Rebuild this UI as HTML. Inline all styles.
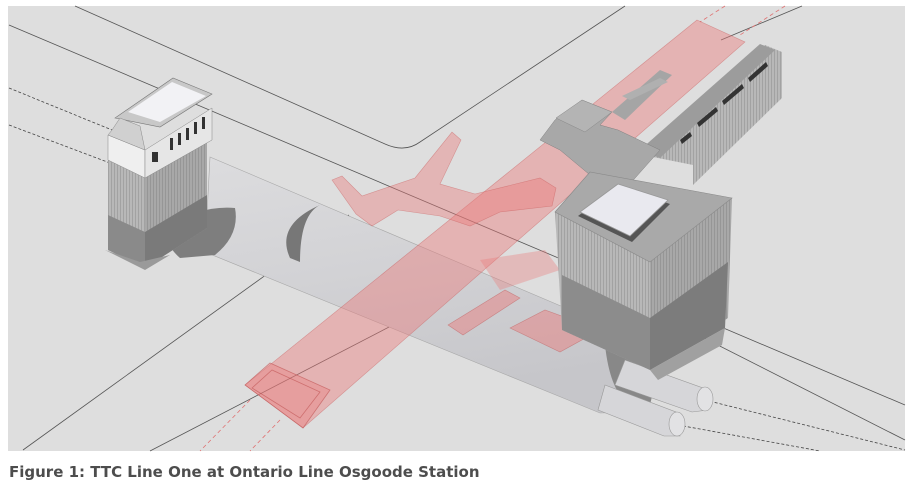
<!DOCTYPE html>
<html><head><meta charset="utf-8"><style>
html,body{margin:0;padding:0;background:#fff;width:911px;height:486px;overflow:hidden}
.cap{position:absolute;left:9px;top:463px;font:bold 15px "DejaVu Sans","Liberation Sans",sans-serif;color:#4d4d4d;white-space:nowrap}
svg{position:absolute;left:0;top:0}
</style></head><body>
<svg width="911" height="486" viewBox="0 0 911 486">
<defs>
<linearGradient id="tub" x1="0" y1="0" x2="0.3" y2="1"><stop offset="0" stop-color="#dcdcde"/><stop offset="0.5" stop-color="#d2d2d5"/><stop offset="1" stop-color="#c6c6ca"/></linearGradient>
<pattern id="str" width="3" height="10" patternUnits="userSpaceOnUse"><rect width="3" height="10" fill="#b8b8b8"/><rect width="1" height="10" fill="#a2a2a2"/></pattern>
<pattern id="str2" width="3" height="10" patternUnits="userSpaceOnUse"><rect width="3" height="10" fill="#a8a8a8"/><rect width="1" height="10" fill="#969696"/></pattern>
</defs>
<rect x="8" y="6" width="897" height="445" fill="#dedede"/>
<g stroke="#555" stroke-width="0.8" fill="none">
<path d="M75 6 L385 144 Q405 153 420 142 L625 6"/>
<path d="M9 25 L905 405"/>
<path d="M23 450 L349 215"/>
<path d="M150 451 L470 285"/>
<path d="M802 6 L721 40"/>
<path d="M560 265 L905 440"/>
</g>
<g stroke="#444" stroke-width="0.8" stroke-dasharray="3,2" fill="none">
<path d="M9 88 L112 130"/><path d="M9 125 L110 163"/>
<path d="M705 400 L905 450"/><path d="M678 425 L820 451"/>
</g>
<g stroke="#e07070" stroke-width="0.8" stroke-dasharray="4,3" fill="none">
<path d="M725 6 L700 22"/><path d="M785 6 L740 35"/>
<path d="M250 400 L200 451"/><path d="M280 420 L250 451"/>
</g>
<!-- tunnel -->
<path d="M210 157 L648 343 Q668 380 640 412 L600 413 L205 252 Z" fill="url(#tub)" stroke="#a8a8a8" stroke-width="0.6"/>
<path d="M290 258 Q275 225 320 205 Q300 215 300 262 Z" fill="#777"/>
<path d="M605 345 Q668 350 648 412 Q612 410 605 345 Z" fill="#888"/>
<!-- small cylinders -->
<path d="M625 360 L703 388 L708 410 L692 412 L615 385 Z" fill="#d6d6d9" stroke="#999" stroke-width="0.6"/>
<ellipse cx="705" cy="399" rx="8" ry="12" fill="#e2e2e4" stroke="#999" stroke-width="0.6"/>
<path d="M605 385 L676 412 L680 436 L664 436 L598 410 Z" fill="#d6d6d9" stroke="#999" stroke-width="0.6"/>
<ellipse cx="677" cy="424" rx="8" ry="12" fill="#e2e2e4" stroke="#999" stroke-width="0.6"/>
<!-- left building -->
<path d="M165 228 Q200 205 235 208 Q240 235 215 255 L180 258 Q165 245 165 228 Z" fill="#7e7e7e"/>
<polygon points="108,160 145,178 145,268 108,250" fill="url(#str)"/>
<polygon points="108,215 145,232 145,268 108,250" fill="#8a8a8a"/>
<polygon points="145,178 207,140 207,228 145,268" fill="url(#str2)"/>
<polygon points="145,232 207,195 207,228 145,268" fill="#7a7a7a"/>
<polygon points="105,250 145,270 170,255 140,262" fill="#9a9a9a"/>
<polygon points="108,135 145,150 145,178 108,160" fill="#efefef" stroke="#888" stroke-width="0.5"/>
<polygon points="145,150 212,108 212,140 145,178" fill="#e6e6e6" stroke="#888" stroke-width="0.5"/>
<g fill="#333"><rect x="170" y="138" width="3" height="12"/><rect x="178" y="133" width="3" height="12"/><rect x="186" y="128" width="3" height="12"/><rect x="194" y="122" width="3" height="12"/><rect x="202" y="117" width="3" height="12"/><rect x="152" y="152" width="6" height="10"/></g>
<polygon points="115,118 173,78 212,94 160,127" fill="#c8c8c8" stroke="#777" stroke-width="0.6"/>
<polygon points="128,112 172,82 206,96 160,122" fill="#f2f2f5"/>
<polygon points="112,130 120,118 140,126 145,150 108,135" fill="#d0d0d0" stroke="#888" stroke-width="0.5"/>
<!-- pink main band -->
<polygon points="697,20 745,42 303,428 245,385" fill="rgba(236,120,120,0.42)" stroke="rgba(200,90,90,0.5)" stroke-width="0.6"/>
<polygon points="245,385 270,363 330,390 303,428" fill="rgba(236,120,120,0.35)" stroke="rgba(190,80,80,0.6)" stroke-width="0.8"/>
<polygon points="252,388 272,370 320,392 300,418" fill="none" stroke="rgba(190,80,80,0.6)" stroke-width="0.8"/>
<!-- pink concourse -->
<polygon points="332,180 342,176 362,196 415,178 452,132 461,140 440,184 475,194 540,178 556,188 552,206 500,212 470,226 440,216 398,210 372,226 356,214" fill="rgba(236,120,120,0.4)" stroke="rgba(200,90,90,0.5)" stroke-width="0.6"/>
<polygon points="448,325 505,290 520,298 463,335" fill="rgba(236,120,120,0.45)" stroke="rgba(190,80,80,0.5)" stroke-width="0.6"/>
<polygon points="510,328 545,310 600,330 560,352" fill="rgba(236,120,120,0.45)" stroke="rgba(190,80,80,0.5)" stroke-width="0.6"/>
<polygon points="480,260 545,250 560,270 500,290" fill="rgba(236,120,120,0.35)"/>
<!-- NE long building -->
<polygon points="653,157 765,45 782,52 782,98 693,185 693,165" fill="url(#str)"/>
<polygon points="640,150 760,44 775,50 660,158" fill="#9c9c9c"/>
<g fill="#333"><polygon points="680,140 690,132 692,136 682,144"/><polygon points="697,123 716,107 718,111 699,127"/><polygon points="722,101 742,84 744,88 724,105"/><polygon points="748,78 766,62 768,66 750,82"/></g>
<!-- connector and small building -->
<polygon points="555,120 582,100 612,112 600,125 618,130 660,150 620,195 590,175 560,150 540,140" fill="#a8a8a8" stroke="#808080" stroke-width="0.5"/>
<polygon points="556,118 582,100 612,112 585,132" fill="#b4b4b4" stroke="#888" stroke-width="0.5"/>
<polygon points="612,112 660,70 672,75 625,120" fill="#a5a5a5"/>
<polygon points="622,96 660,78 668,82 630,100" fill="#b0b0b0"/>
<!-- right building -->
<polygon points="555,212 650,262 650,370 562,330" fill="url(#str)"/>
<polygon points="562,275 650,318 650,370 562,330" fill="#8c8c8c"/>
<polygon points="650,262 732,198 728,318 650,370" fill="url(#str2)"/>
<polygon points="650,318 728,262 725,328 650,370" fill="#7c7c7c"/>
<polygon points="650,370 725,328 722,345 658,380" fill="#a0a0a0"/>
<polygon points="555,212 590,172 732,198 650,262" fill="#a9a9a9" stroke="#8a8a8a" stroke-width="0.6"/>
<polygon points="578,216 618,186 670,204 632,242" fill="#555"/>
<polygon points="580,212 618,184 668,200 630,236" fill="#e9e9ef" stroke="#999" stroke-width="0.8"/>
</svg>
<div class="cap">Figure 1: TTC Line One at Ontario Line Osgoode Station</div>
</body></html>
